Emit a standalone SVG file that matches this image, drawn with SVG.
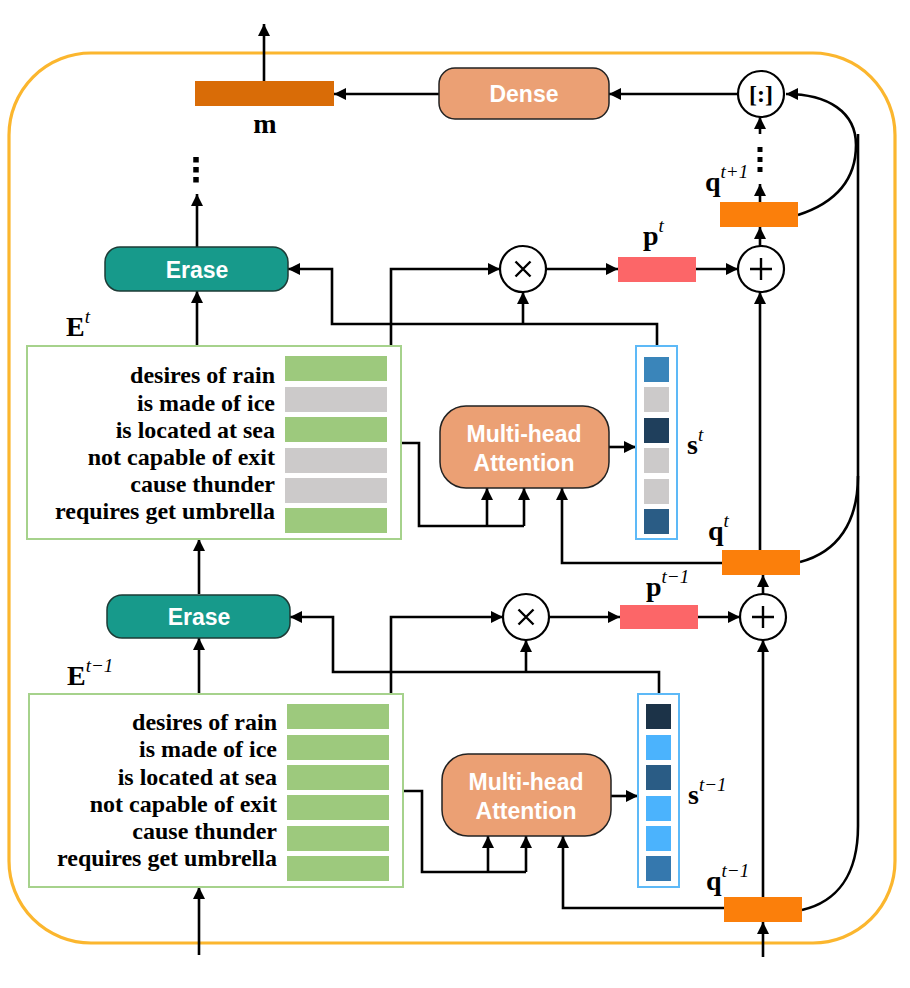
<svg xmlns="http://www.w3.org/2000/svg" width="910" height="988" viewBox="0 0 910 988">
<style>
.ln{fill:none;stroke:#000;stroke-width:2.6}
.ar{marker-end:url(#ah)}
.bx{font-family:"Liberation Sans",Arial,sans-serif;font-weight:bold;font-size:23px;fill:#fff;text-anchor:middle}
.rl{font-family:"Liberation Serif","Times New Roman",serif;font-weight:bold;font-size:24px;fill:#000;text-anchor:end}
.mt{font-family:"Liberation Serif","Times New Roman",serif;font-weight:bold;font-size:28px;fill:#000}
.sp{font-style:italic;font-weight:normal;font-size:19px}
.g{fill:#9DC97D}
.gr{fill:#CCCACA}
.op{fill:#fff;stroke:#000;stroke-width:2.2}
.sym{stroke:#000;stroke-width:2.4;fill:none}
</style>
<defs>
<marker id="ah" markerUnits="userSpaceOnUse" markerWidth="13" markerHeight="13" refX="12" refY="6" orient="auto">
<path d="M0,0 L12,6 L0,12 z" fill="#000"/>
</marker>
</defs>

<rect id="frame" x="9" y="53" width="886" height="890" rx="82" ry="82" fill="none" stroke="#FBB62E" stroke-width="3.2"/>

<g id="connectors">
<path class="ln ar" d="M264,81 V24"/>
<path class="ln ar" d="M439,94 H334"/>
<path class="ln ar" d="M738,94 H609"/>
<path class="ln ar" d="M760,202 V184"/>
<line x1="760" y1="147" x2="760" y2="173" stroke="#000" stroke-width="5" stroke-dasharray="5 5"/>
<path class="ln ar" d="M760,134 V117"/>
<path class="ln ar" d="M760,246 V227"/>
<path class="ln ar" d="M760,550 V292"/>
<path class="ln ar" d="M696,269 H738"/>
<path class="ln ar" d="M546,269 H618"/>
<path class="ln ar" d="M391,346 V269 H500"/>
<path class="ln ar" d="M657,346 V324 H332 V269 H288"/>
<path class="ln ar" d="M523,324 V292"/>
<path class="ln ar" d="M197,247 V194"/>
<line x1="196" y1="157" x2="196" y2="184" stroke="#000" stroke-width="5.5" stroke-dasharray="5.5 4.5"/>
<path class="ln ar" d="M197,346 V291"/>
<path class="ln" d="M401,443 H419 V526 H524"/>
<path class="ln ar" d="M487,526 V488"/>
<path class="ln ar" d="M524,526 V488"/>
<path class="ln ar" d="M722,563 H562 V488"/>
<path class="ln ar" d="M609,447 H636"/>
<path class="ln ar" d="M199,594 V539"/>

<path class="ln ar" d="M199,694 V638"/>
<path class="ln ar" d="M391,694 V617 H503"/>
<path class="ln ar" d="M659,694 V672 H333 V617 H290"/>
<path class="ln ar" d="M526,672 V640"/>
<path class="ln ar" d="M549,617 H620"/>
<path class="ln ar" d="M698,617 H740"/>
<path class="ln ar" d="M763,594 V575"/>
<path class="ln ar" d="M763,897 V640"/>
<path class="ln" d="M403,791 H422 V872 H526"/>
<path class="ln ar" d="M488,872 V836"/>
<path class="ln ar" d="M526,872 V836"/>
<path class="ln ar" d="M724,908 H563 V836"/>
<path class="ln ar" d="M611,796 H638"/>
<path class="ln ar" d="M763,957 V922"/>
<path class="ln ar" d="M199,955 V887"/>

<path class="ln ar" d="M798,215 C838,202 856,178 856,145 C856,112 828,94 786,94"/>
<path class="ln" d="M858,134 V826 C858,876 836,902 802,910"/>
<path class="ln" d="M800,562 C838,552 858,522 858,476"/>
</g>

<g id="m-bar">
<rect x="195" y="81" width="139" height="25" fill="#D96C07"/>
<text class="mt" x="265" y="133" text-anchor="middle">m</text>
</g>

<g id="dense">
<rect x="439" y="68" width="170" height="51" rx="16" fill="#EBA074" stroke="#222" stroke-width="1.5"/>
<text class="bx" x="524" y="102">Dense</text>
</g>

<g id="concat">
<circle class="op" cx="761" cy="94" r="23"/>
<text x="761" y="102" text-anchor="middle" font-family="Liberation Serif, Times New Roman, serif" font-weight="bold" font-size="24">[:]</text>
</g>

<g id="q-t1">
<rect x="720" y="202" width="78" height="25" fill="#FB7F0B"/>
<text class="mt" x="705" y="191">q<tspan class="sp" dy="-13">t+1</tspan></text>
</g>

<g id="plus-top">
<circle class="op" cx="761" cy="269" r="23"/>
<path class="sym" d="M750,269 H772 M761,258 V280"/>
</g>

<g id="p-t">
<rect x="618" y="257" width="78" height="25" fill="#FC6668"/>
<text class="mt" x="643" y="245">p<tspan class="sp" dy="-13">t</tspan></text>
</g>

<g id="times-top">
<circle class="op" cx="523" cy="269" r="23"/>
<path class="sym" d="M515.5,261.5 L530.5,276.5 M530.5,261.5 L515.5,276.5"/>
</g>

<g id="erase-top">
<rect x="105" y="247" width="183" height="44" rx="15" fill="#179A8B" stroke="#1d3b36" stroke-width="1.5"/>
<text class="bx" x="197" y="278">Erase</text>
</g>

<g id="E-t">
<text class="mt" x="66" y="336">E<tspan class="sp" dy="-13">t</tspan></text>
<rect x="27" y="346" width="374" height="193" fill="#fff" stroke="#A6D28C" stroke-width="2"/>
<rect class="g" x="285" y="356" width="102" height="25"/>
<rect class="gr" x="285" y="387" width="102" height="25"/>
<rect class="g" x="285" y="417" width="102" height="25"/>
<rect class="gr" x="285" y="448" width="102" height="25"/>
<rect class="gr" x="285" y="478" width="102" height="25"/>
<rect class="g" x="285" y="508" width="102" height="25"/>
<text class="rl" x="275" y="383">desires of rain</text>
<text class="rl" x="275" y="410.5">is made of ice</text>
<text class="rl" x="275" y="438">is located at sea</text>
<text class="rl" x="275" y="465">not capable of exit</text>
<text class="rl" x="275" y="492">cause thunder</text>
<text class="rl" x="275" y="519">requires get umbrella</text>
</g>

<g id="mha-top">
<rect x="440" y="406" width="169" height="82" rx="26" fill="#EBA074" stroke="#222" stroke-width="1.5"/>
<text class="bx" x="524" y="442">Multi-head</text>
<text class="bx" x="524" y="471">Attention</text>
</g>

<g id="s-t">
<rect x="636" y="346" width="41" height="193" fill="#fff" stroke="#5DB9F7" stroke-width="2"/>
<rect x="644" y="357" width="25" height="25" fill="#3A85BA"/>
<rect class="gr" x="644" y="387" width="25" height="25"/>
<rect x="644" y="418" width="25" height="25" fill="#1F3F5C"/>
<rect class="gr" x="644" y="448" width="25" height="25"/>
<rect class="gr" x="644" y="479" width="25" height="25"/>
<rect x="644" y="509" width="25" height="25" fill="#2A5C85"/>
<text class="mt" x="687" y="454">s<tspan class="sp" dy="-13">t</tspan></text>
</g>

<g id="q-t">
<rect x="722" y="550" width="78" height="25" fill="#FB7F0B"/>
<text class="mt" x="708" y="540">q<tspan class="sp" dy="-13">t</tspan></text>
</g>

<g id="p-t-1">
<rect x="620" y="605" width="78" height="24" fill="#FC6668"/>
<text class="mt" x="646" y="596">p<tspan class="sp" dy="-13">t−1</tspan></text>
</g>

<g id="plus-bottom">
<circle class="op" cx="763" cy="617" r="23"/>
<path class="sym" d="M752,617 H774 M763,606 V628"/>
</g>

<g id="times-bottom">
<circle class="op" cx="526" cy="617" r="23"/>
<path class="sym" d="M518.5,609.5 L533.5,624.5 M533.5,609.5 L518.5,624.5"/>
</g>

<g id="erase-bottom">
<rect x="107" y="595" width="183" height="43" rx="15" fill="#179A8B" stroke="#1d3b36" stroke-width="1.5"/>
<text class="bx" x="199" y="625">Erase</text>
</g>

<g id="E-t-1">
<text class="mt" x="67" y="685">E<tspan class="sp" dy="-13">t−1</tspan></text>
<rect x="29" y="694" width="374" height="193" fill="#fff" stroke="#A6D28C" stroke-width="2"/>
<rect class="g" x="287" y="704" width="102" height="25"/>
<rect class="g" x="287" y="735" width="102" height="25"/>
<rect class="g" x="287" y="765" width="102" height="25"/>
<rect class="g" x="287" y="795" width="102" height="25"/>
<rect class="g" x="287" y="826" width="102" height="25"/>
<rect class="g" x="287" y="856" width="102" height="25"/>
<text class="rl" x="277" y="730">desires of rain</text>
<text class="rl" x="277" y="757">is made of ice</text>
<text class="rl" x="277" y="784.5">is located at sea</text>
<text class="rl" x="277" y="812">not capable of exit</text>
<text class="rl" x="277" y="839">cause thunder</text>
<text class="rl" x="277" y="866">requires get umbrella</text>
</g>

<g id="mha-bottom">
<rect x="442" y="754" width="169" height="82" rx="26" fill="#EBA074" stroke="#222" stroke-width="1.5"/>
<text class="bx" x="526" y="790">Multi-head</text>
<text class="bx" x="526" y="819">Attention</text>
</g>

<g id="s-t-1">
<rect x="638" y="694" width="41" height="193" fill="#fff" stroke="#5DB9F7" stroke-width="2"/>
<rect x="646" y="704" width="25" height="25" fill="#1C3348"/>
<rect x="646" y="735" width="25" height="25" fill="#4BB3FD"/>
<rect x="646" y="765" width="25" height="25" fill="#2A5C85"/>
<rect x="646" y="796" width="25" height="25" fill="#4BB3FD"/>
<rect x="646" y="826" width="25" height="25" fill="#4BB3FD"/>
<rect x="646" y="856" width="25" height="25" fill="#3578AE"/>
<text class="mt" x="688" y="804">s<tspan class="sp" dy="-13">t−1</tspan></text>
</g>

<g id="q-t-1">
<rect x="724" y="897" width="78" height="25" fill="#FB7F0B"/>
<text class="mt" x="706" y="890">q<tspan class="sp" dy="-13">t−1</tspan></text>
</g>
</svg>
